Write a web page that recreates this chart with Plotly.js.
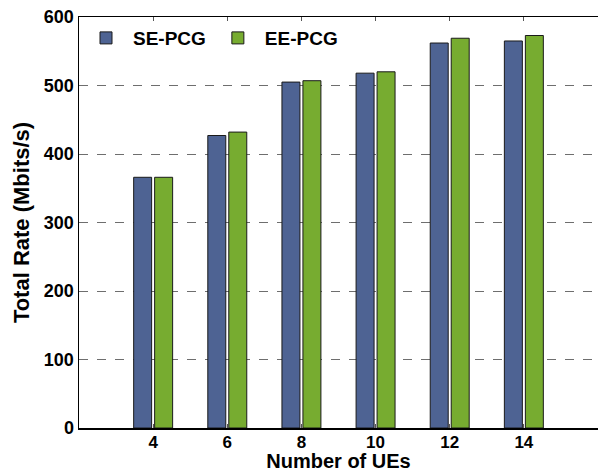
<!DOCTYPE html>
<html>
<head>
<meta charset="utf-8">
<script src="https://cdn.plot.ly/plotly-3.0.1.min.js"></script>
<style>html,body{margin:0;padding:0;background:#fff;}#chart{width:598px;height:472px;}</style>
</head>
<body>
<div id="chart"></div>
<script>
var ues = [4, 6, 8, 10, 12, 14];
var sePcg = [366, 427, 505, 518, 562, 565];
var eePcg = [366, 432, 507, 520, 569, 573];
var seriesNames = ['SE-PCG', 'EE-PCG'];
var xTicks = [4, 6, 8, 10, 12, 14];
var yTicks = [0, 100, 200, 300, 400, 500, 600];

var font = '"Liberation Sans", Arial, Helvetica, sans-serif';
var bold = function (v) { return '<b>' + v + '</b>'; };
var traces = [
  {type: 'bar', name: bold(seriesNames[0]), x: ues, y: sePcg,
   marker: {color: '#4e6393', line: {color: '#1a1a1a', width: 1}}},
  {type: 'bar', name: bold(seriesNames[1]), x: ues, y: eePcg,
   marker: {color: '#77ac30', line: {color: '#1a1a1a', width: 1}}}
];
var layout = {
  width: 598, height: 472,
  margin: {l: 79, r: 0, t: 17, b: 44},
  paper_bgcolor: '#fff', plot_bgcolor: '#fff',
  barmode: 'group', bargap: 0.434, bargroupgap: 0.143,
  font: {family: font, color: '#000', size: 18},
  showlegend: true,
  legend: {orientation: 'h', x: 0.0, y: 0.995, xanchor: 'left', yanchor: 'top',
           font: {family: font, size: 19, color: '#000'},
           bgcolor: 'rgba(0,0,0,0)', itemwidth: 44, tracegroupgap: 0},
  xaxis: {
    range: [2, 16], tickvals: xTicks, ticktext: xTicks.map(bold),
    showline: true, linecolor: '#000', linewidth: 1.5, mirror: 'ticks',
    ticks: 'inside', ticklen: 4, tickcolor: '#555', showgrid: false, zeroline: false,
    tickfont: {family: font, size: 17}, ticklabelstandoff: -2,
    title: {text: bold('Number of UEs'), font: {family: font, size: 20}, standoff: 0},
    automargin: false
  },
  yaxis: {
    range: [0, 600], tickvals: yTicks, ticktext: yTicks.map(bold),
    showline: true, linecolor: '#000', linewidth: 1.5, mirror: false,
    ticks: '', showgrid: true, gridcolor: '#6e6e6e', gridwidth: 1, griddash: 'dash',
    zeroline: false,
    tickfont: {family: font, size: 18},
    title: {text: bold('Total Rate (Mbits/s)'), font: {family: font, size: 22}, standoff: 8},
    automargin: false
  }
};
Plotly.newPlot('chart', traces, layout, {displayModeBar: false, staticPlot: true});
</script>
</body>
</html>
